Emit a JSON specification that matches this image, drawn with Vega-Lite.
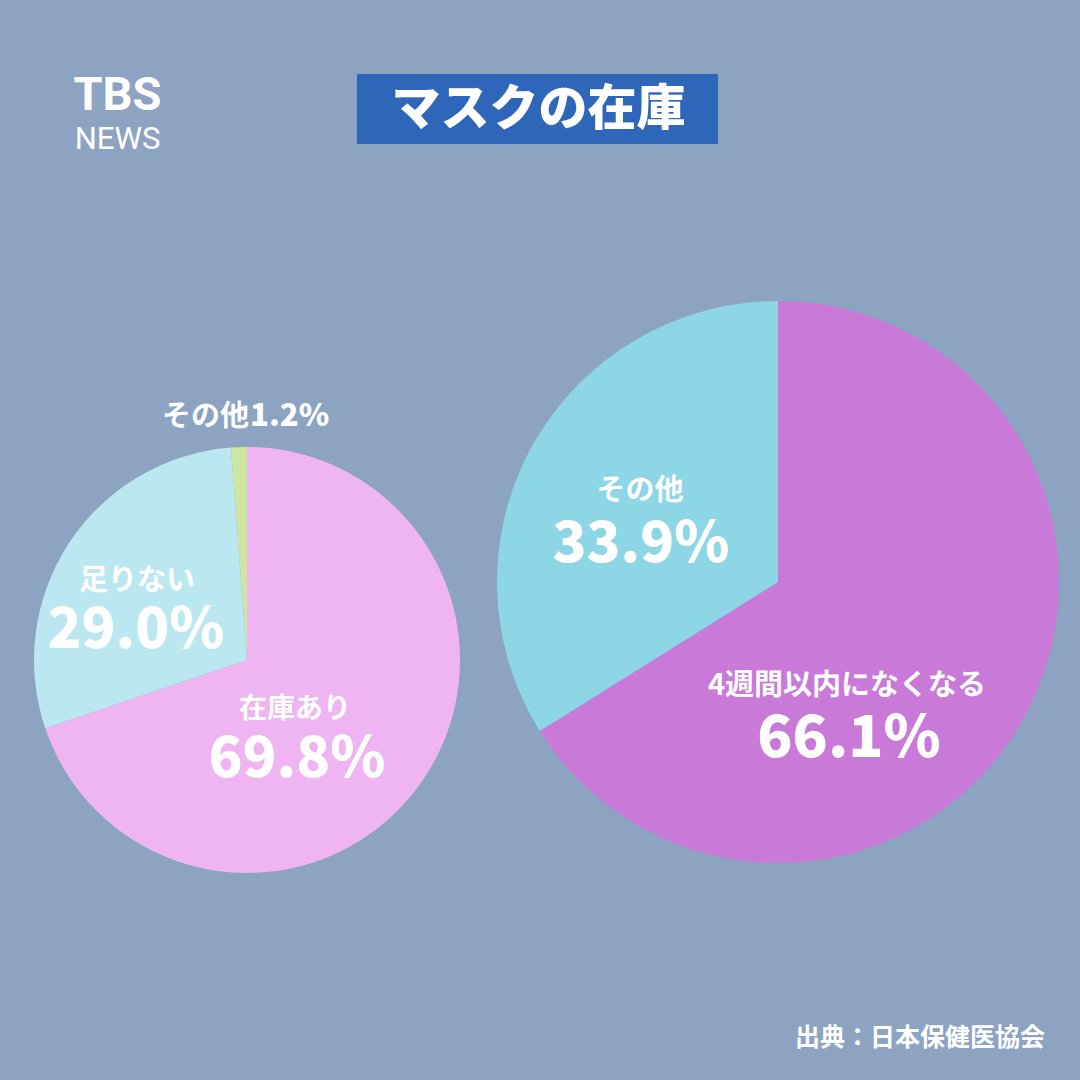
{
  "$schema": "https://vega.github.io/schema/vega-lite/v6.json",
  "background": "#8CA3C2",
  "padding": {"left": 0, "top": 72, "right": 21, "bottom": 32},
  "config": {"view": {"stroke": null}, "font": "Noto Sans CJK JP"},
  "datasets": {
    "left": [
      {"category": "在庫あり", "share": 0.698, "rank": 1},
      {"category": "足りない", "share": 0.290, "rank": 2},
      {"category": "その他", "share": 0.012, "rank": 3}
    ],
    "right": [
      {"category": "4週間以内になくなる", "share": 0.661, "rank": 1},
      {"category": "その他", "share": 0.339, "rank": 2}
    ],
    "header": [{"logo": "TBS", "sub": "NEWS", "title": "マスクの在庫"}]
  },
  "title": {"text": "出典：日本保健医協会", "orient": "bottom", "anchor": "end", "frame": "bounds", "offset": 6, "dx": -14, "fontSize": 25, "fontWeight": "bold", "color": "#FFFFFF", "font": "Noto Sans CJK JP"},
  "spacing": 226,
  "bounds": "flush",
  "vconcat": [
    {
      "hconcat": [
        {
          "width": 235, "height": 70,
          "data": {"name": "header"},
          "layer": [
            {"mark": {"type": "text", "font": "Roboto", "fontWeight": "bold", "fontSize": 47, "color": "#FFFFFF", "baseline": "alphabetic", "dy": 1}, "encoding": {"text": {"field": "logo"}}},
            {"mark": {"type": "text", "font": "Roboto", "fontWeight": "normal", "fontSize": 31, "color": "#FFFFFF", "baseline": "alphabetic", "dy": 40}, "encoding": {"text": {"field": "sub"}}}
          ]
        },
        {
          "width": 361, "height": 70,
          "view": {"fill": "#2E67B9", "stroke": null},
          "data": {"name": "header"},
          "mark": {"type": "text", "fontSize": 49, "fontWeight": 900, "color": "#FFFFFF", "baseline": "middle", "dx": 1, "dy": 1},
          "encoding": {"text": {"field": "title"}}
        }
      ],
      "spacing": 122,
      "bounds": "flush"
    },
    {
      "hconcat": [
        {
          "width": 494, "height": 720,
          "data": {"name": "left"},
          "layer": [
            {
              "mark": {"type": "arc", "outerRadius": 213},
              "encoding": {
                "theta": {"field": "share", "type": "quantitative", "stack": true},
                "order": {"field": "rank", "type": "quantitative", "sort": "ascending"},
                "color": {"field": "category", "type": "nominal", "legend": null, "scale": {"domain": ["在庫あり", "足りない", "その他"], "range": ["#EFB5F2", "#BBE8F0", "#CDE6A2"]}}
              }
            },
            {"transform": [{"filter": {"field": "category", "equal": "その他"}}], "mark": {"type": "text", "fontSize": 29, "fontWeight": "bold", "color": "#FFFFFF", "align": "right", "baseline": "middle", "dx": 2, "dy": -243}, "encoding": {"text": {"field": "category"}}},
            {"transform": [{"filter": {"field": "category", "equal": "その他"}}], "mark": {"type": "text", "fontSize": 31, "fontWeight": 900, "color": "#FFFFFF", "align": "left", "baseline": "middle", "dx": 3, "dy": -243}, "encoding": {"text": {"field": "share", "format": ".1%"}}},
            {"transform": [{"filter": {"field": "category", "equal": "足りない"}}], "mark": {"type": "text", "fontSize": 29, "fontWeight": "bold", "color": "#FFFFFF", "baseline": "middle", "dx": -110, "dy": -79}, "encoding": {"text": {"field": "category"}}},
            {"transform": [{"filter": {"field": "category", "equal": "足りない"}}], "mark": {"type": "text", "fontSize": 56, "fontWeight": 900, "color": "#FFFFFF", "baseline": "middle", "dx": -111, "dy": -29}, "encoding": {"text": {"field": "share", "format": ".1%"}}},
            {"transform": [{"filter": {"field": "category", "equal": "在庫あり"}}], "mark": {"type": "text", "fontSize": 28, "fontWeight": "bold", "color": "#FFFFFF", "baseline": "middle", "dx": 48, "dy": 50}, "encoding": {"text": {"field": "category"}}},
            {"transform": [{"filter": {"field": "category", "equal": "在庫あり"}}], "mark": {"type": "text", "fontSize": 56, "fontWeight": 900, "color": "#FFFFFF", "baseline": "middle", "dx": 50, "dy": 100}, "encoding": {"text": {"field": "share", "format": ".1%"}}}
          ]
        },
        {
          "width": 562, "height": 564,
          "data": {"name": "right"},
          "layer": [
            {
              "mark": {"type": "arc", "outerRadius": 281},
              "encoding": {
                "theta": {"field": "share", "type": "quantitative", "stack": true},
                "order": {"field": "rank", "type": "quantitative", "sort": "ascending"},
                "color": {"field": "category", "type": "nominal", "legend": null, "scale": {"domain": ["4週間以内になくなる", "その他"], "range": ["#C97AD8", "#8CD6E6"]}}
              }
            },
            {"transform": [{"filter": {"field": "category", "equal": "その他"}}], "mark": {"type": "text", "fontSize": 29, "fontWeight": "bold", "color": "#FFFFFF", "baseline": "middle", "dx": -138, "dy": -91}, "encoding": {"text": {"field": "category"}}},
            {"transform": [{"filter": {"field": "category", "equal": "その他"}}], "mark": {"type": "text", "fontSize": 56, "fontWeight": 900, "color": "#FFFFFF", "baseline": "middle", "dx": -137, "dy": -37}, "encoding": {"text": {"field": "share", "format": ".1%"}}},
            {"transform": [{"filter": {"field": "category", "equal": "4週間以内になくなる"}}], "mark": {"type": "text", "fontSize": 29, "fontWeight": "bold", "color": "#FFFFFF", "baseline": "middle", "dx": 69, "dy": 104}, "encoding": {"text": {"field": "category"}}},
            {"transform": [{"filter": {"field": "category", "equal": "4週間以内になくなる"}}], "mark": {"type": "text", "fontSize": 58, "fontWeight": 900, "color": "#FFFFFF", "baseline": "middle", "dx": 71, "dy": 158}, "encoding": {"text": {"field": "share", "format": ".1%"}}}
          ]
        }
      ],
      "spacing": 3,
      "bounds": "flush",
      "resolve": {"scale": {"color": "independent", "theta": "independent"}}
    }
  ]
}
